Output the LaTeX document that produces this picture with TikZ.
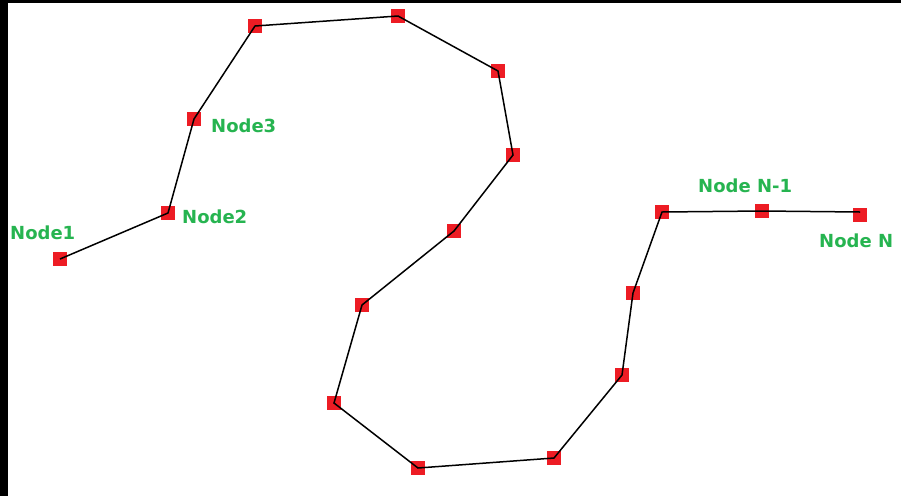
\documentclass[tikz,border=0pt]{standalone}
\usepackage{fontspec}
\setmainfont{DejaVu Sans}
\definecolor{nodered}{RGB}{237,28,36}
\definecolor{labelgreen}{RGB}{38,180,80}
\begin{document}
\begin{tikzpicture}[x=1pt,y=-1pt,
  pt/.style={rectangle,fill=nodered,minimum size=14pt,inner sep=0pt,outer sep=0pt},
  lbl/.style={anchor=base west,inner sep=0pt,text=labelgreen,font=\fontsize{18}{20}\selectfont\bfseries},
  link/.style={draw=black,line width=1.5pt}]
\useasboundingbox (0,0) rectangle (901,496);
\fill[white] (0,0) rectangle (901,496);
\fill[black] (0,0) rectangle (901,3);
\fill[black] (0,0) rectangle (8,496);
\foreach \n/\x/\y in {1/60/259,2/168/213,3/194/119,4/255/26,5/398/16,6/498/71,7/513/155,8/454/231,9/362/305,10/334/403,11/418/468,12/554/458,13/622/375,14/633/293,15/662/212,16/762/211,17/860/215}{
  \node[pt] (n\n) at (\x,\y) {};
}
\draw[link] (n1.center) -- (n2.center) -- (n3.center) -- (n4.center) -- (n5.center) -- (n6.center) -- (n7.center) -- (n8.center) -- (n9.center) -- (n10.center) -- (n11.center) -- (n12.center) -- (n13.center) -- (n14.center) -- (n15.center) -- (n16.center) -- ([yshift=3pt]n17.center);
\node[lbl] (l1) at (10,239) {Node1};
\node[lbl] (l2) at (182,223) {Node2};
\node[lbl] (l3) at (211,132) {Node3};
\node[lbl] (l16) at (698,192) {Node N-1};
\node[lbl] (l17) at (819,247) {Node N};
\end{tikzpicture}
\end{document}
